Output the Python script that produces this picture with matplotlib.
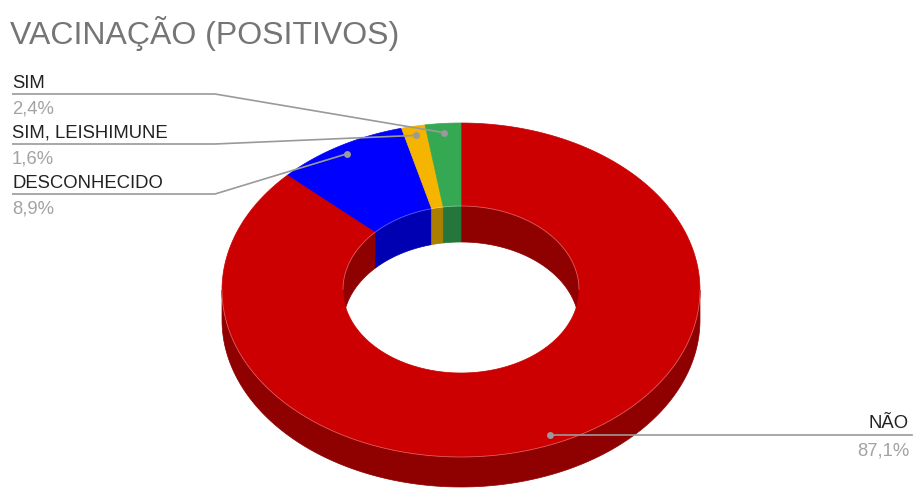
import numpy as np
import matplotlib
matplotlib.use("Agg")
import matplotlib.pyplot as plt
from matplotlib.patches import Polygon

# ---- data ----
categories = ["NÃO", "DESCONHECIDO", "SIM, LEISHIMUNE", "SIM"]
values = [87.1, 8.9, 1.6, 2.4]
pct_labels = ["87,1%", "8,9%", "1,6%", "2,4%"]
top_colors = ["#cc0000", "#0000ff", "#f4b400", "#34a853"]
title = "VACINAÇÃO (POSITIVOS)"

# ---- geometry (pixel space) ----
W, H = 913, 488
cx, cy = 461, 290
rxo, ryo = 239, 167
rxi, ryi = 118, 83.5
cyi = 289.5
depth_o = 30
depth_i = 36
FONT = "Liberation Sans"

def darken(c, f=0.7):
    r, g, b = matplotlib.colors.to_rgb(c)
    return (r * f, g * f, b * f)

def arc(rx, ry, x0, y0, a1, a2, n=200):
    t = np.radians(np.linspace(a1, a2, n))
    return np.column_stack([x0 + rx * np.sin(t), y0 - ry * np.cos(t)])

fig = plt.figure(figsize=(W / 100, H / 100), dpi=100)
ax = fig.add_axes([0, 0, 1, 1])
ax.set_xlim(0, W)
ax.set_ylim(H, 0)
ax.axis("off")

total = sum(values)
bounds = np.concatenate([[0], np.cumsum(values) / total * 360])

def clip(a1, a2, lo, hi):
    s, e = max(a1, lo), min(a2, hi)
    return (s, e) if e > s else None

# outer walls (front half)
for i in range(len(values)):
    seg = clip(bounds[i], bounds[i + 1], 90, 270)
    if seg:
        top = arc(rxo, ryo, cx, cy, *seg)
        bot = arc(rxo, ryo, cx, cy + depth_o, *seg)[::-1]
        c = darken(top_colors[i])
        ax.add_patch(Polygon(np.vstack([top, bot]), closed=True, fc=c, ec=c, lw=0.5))

# inner walls (back half)
for i in range(len(values)):
    a1, a2 = bounds[i], bounds[i + 1]
    for lo, hi in [(0, 90), (270, 360)]:
        seg = clip(a1, a2, lo, hi)
        if seg:
            top = arc(rxi, ryi, cx, cyi, *seg)
            bot = arc(rxi, ryi, cx, cyi + depth_i, *seg)[::-1]
            c = darken(top_colors[i])
            ax.add_patch(Polygon(np.vstack([top, bot]), closed=True, fc=c, ec=c, lw=0.5))

# top faces
for i in range(len(values)):
    a1, a2 = bounds[i], bounds[i + 1]
    outer = arc(rxo, ryo, cx, cy, a1, a2)
    inner = arc(rxi, ryi, cx, cyi, a1, a2)[::-1]
    ax.add_patch(Polygon(np.vstack([outer, inner]), closed=True,
                         fc=top_colors[i], ec=top_colors[i], lw=0.5))

# subtle light edges
e1 = arc(rxo, ryo, cx, cy, 90, 270)
ax.plot(e1[:, 0], e1[:, 1], color=(1, 1, 1, 0.35), lw=0.6)
e2 = arc(rxi, ryi, cx, cyi, -90, 90)
ax.plot(e2[:, 0], e2[:, 1], color=(1, 1, 1, 0.35), lw=0.6)

# title
ax.text(10, 44, title, fontsize=23, color="#757575", family=FONT, va="baseline", ha="left")

# leader dots
mids = (bounds[:-1] + bounds[1:]) / 2
frac = 0.945
dots = [(cx + rxo * frac * np.sin(np.radians(m)), cy - ryo * frac * np.cos(np.radians(m))) for m in mids]

line_c = "#9a9a9a"
name_c = "#222222"
pct_c = "#a3a3a3"
fs = 13.3

# left labels: SIM, SIM LEISHIMUNE, DESCONHECIDO
left_order = [3, 2, 1]
for k, i in enumerate(left_order):
    y0 = 88 + 50 * k
    ax.text(12, y0, categories[i], fontsize=fs, color=name_c, family=FONT, va="baseline")
    ax.text(12, y0 + 26, pct_labels[i], fontsize=fs, color=pct_c, family=FONT, va="baseline")
    ly = y0 + 6
    dx, dy = dots[i]
    ax.plot([12, 215, dx], [ly, ly, dy], color=line_c, lw=1.2, solid_capstyle="butt")
    ax.plot(dx, dy, "o", color=line_c, ms=5, mec="none")

# right label: NÃO
dx, dy = dots[0]
ax.plot([dx, 912], [dy, dy], color=line_c, lw=1.2)
ax.plot(dx, dy, "o", color=line_c, ms=5, mec="none")
ax.text(909, 428, categories[0], fontsize=fs, color=name_c, family=FONT, va="baseline", ha="right")
ax.text(909, 455, pct_labels[0], fontsize=fs, color=pct_c, family=FONT, va="baseline", ha="right")

fig.savefig("out.png", dpi=100, facecolor="white")
